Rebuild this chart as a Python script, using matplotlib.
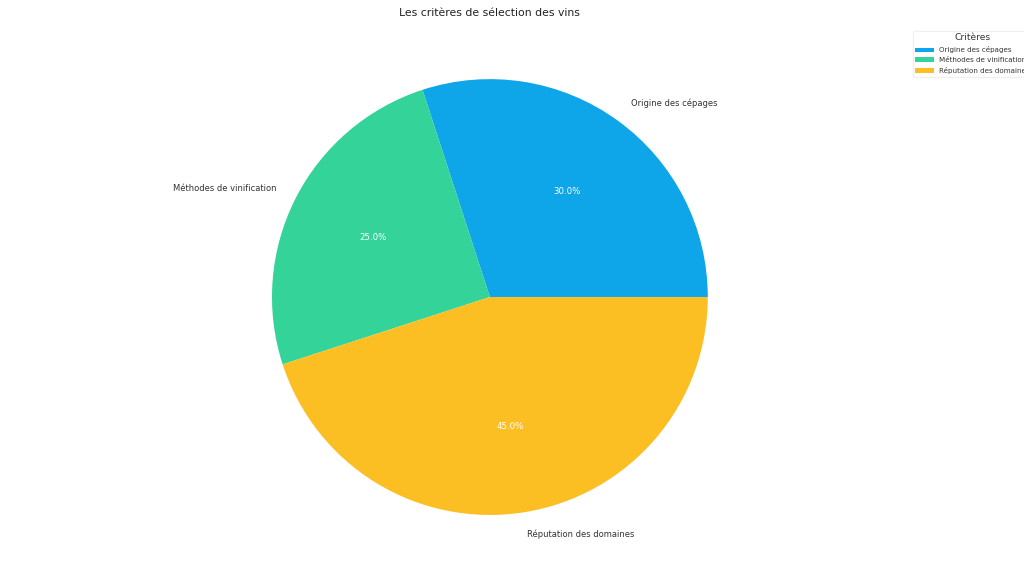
import matplotlib.pyplot as plt

labels = ['Origine des cépages', 'Méthodes de vinification', 'Réputation des domaines']
values = [30, 25, 45]
colors = ['#0EA5E9', '#34D399', '#FBBF24']

fig = plt.figure(figsize=(10.24, 5.76), dpi=100)
ax = fig.add_axes([0.2124, 0.0113, 0.532, 0.946])

wedges, texts, autotexts = ax.pie(values, labels=labels, colors=colors, autopct='%1.1f%%',
                                  startangle=0, textprops={'fontsize': 6, 'color': '#333333'})
for t in autotexts:
    t.set_color('white')
    t.set_fontsize(6.2)

ax.set_title('Les critères de sélection des vins', fontsize=7.8, color='#222222')

leg = fig.legend(wedges, labels, title='Critères', loc='upper left',
                 bbox_to_anchor=(909 / 1024, 1 - 27 / 576), fontsize=5.1, title_fontsize=6.6,
                 handlelength=2.6, handleheight=0.6, labelspacing=0.55,
                 framealpha=1, edgecolor='#f0f0f0')
for t in leg.get_texts():
    t.set_color('#333333')
leg.get_title().set_color('#333333')

fig.savefig('out.png', dpi=100)
